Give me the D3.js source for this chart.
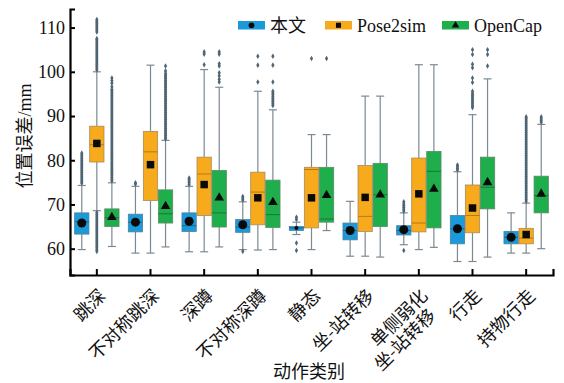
<!DOCTYPE html>
<html>
<head>
<meta charset="utf-8">
<script src="https://cdn.jsdelivr.net/npm/d3@7"></script>
<style>
  html, body { margin: 0; padding: 0; background: #fff; }
  svg { display: block; }
  text { font-family: "Liberation Serif", "Times New Roman", "DejaVu Serif", "Noto Sans CJK SC", serif; fill: #111; }
</style>
</head>
<body>
<svg id="chart" width="564" height="383"></svg>
<script>
// Action categories (a "\n" breaks a label onto two lines)
const categories = ["跳深", "不对称跳深", "深蹲", "不对称深蹲", "静态", "坐-站转移", "单侧弱化\n坐-站转移", "行走", "持物行走"];
const seriesNames = ["本文", "Pose2sim", "OpenCap"];
const yTicks = [60, 70, 80, 90, 100, 110];

// Box statistics per category: [lower whisker, Q1, median, Q3, upper whisker]
const statsBenwen = [
  [59.8, 63.3, 66.1, 68.1, 74.3],
  [59.0, 63.8, 66.0, 67.8, 74.1],
  [59.3, 63.9, 65.2, 68.1, 74.1],
  [59.8, 63.7, 64.9, 66.6, 70.6],
  [63.2, 64.1, 64.7, 65.0, 66.0],
  [58.3, 62.0, 64.1, 65.8, 70.7],
  [60.9, 63.1, 64.1, 65.2, 68.1],
  [57.1, 61.1, 64.5, 67.5, 77.4],
  [59.0, 61.1, 62.6, 63.9, 68.1]
];
const statsPose2sim = [
  [68.6, 79.6, 83.5, 87.7, 100.0],
  [59.0, 70.9, 81.9, 86.5, 101.5],
  [59.3, 67.5, 76.9, 80.7, 100.5],
  [59.7, 65.4, 72.8, 77.3, 95.6],
  [59.8, 64.7, 77.9, 78.4, 85.8],
  [58.3, 63.9, 67.3, 78.8, 94.5],
  [59.8, 63.8, 65.8, 80.5, 101.6],
  [57.1, 63.6, 67.5, 74.4, 90.3],
  [59.0, 61.1, 62.4, 64.6, 70.3]
];
const statsOpenCap = [
  [60.5, 65.0, 67.0, 69.0, 74.9],
  [60.4, 65.8, 67.9, 73.3, 84.5],
  [60.4, 64.9, 68.1, 77.7, 96.5],
  [59.8, 64.8, 67.7, 75.5, 91.4],
  [64.1, 66.0, 66.7, 78.4, 85.8],
  [58.1, 65.0, 72.2, 79.3, 94.5],
  [60.3, 64.7, 77.5, 82.0, 101.6],
  [58.1, 69.0, 73.9, 80.7, 98.4],
  [60.0, 68.1, 72.0, 76.4, 88.1]
];

// Mean errors per category
const meanBenwen   = [65.8, 66.0, 66.2, 65.4, 64.7, 64.1, 64.3, 64.5, 62.6];
const meanPose2sim = [83.8, 79.0, 74.5, 71.5, 71.5, 71.6, 72.4, 69.2, 63.2];
const meanOpenCap  = [67.1, 69.6, 71.5, 70.5, 72.1, 72.2, 73.5, 75.0, 72.4];

// Outlying samples per category
const outliersBenwen = [
  [74.8, 75.2, 75.6, 76.0, 76.4, 76.8, 77.2, 77.6, 78.0, 78.4, 78.8, 79.2, 79.6, 80.0, 80.4, 80.8, 81.2, 81.6],
  [74.6, 74.9],
  [74.5, 74.9, 75.3, 75.7, 76.0],
  [71.0, 71.4, 71.8, 59.4],
  [66.6, 67.1, 61.3, 59.6],
  [],
  [68.5, 68.9, 69.3, 69.7, 70.1, 70.6, 59.6],
  [77.8, 78.2, 78.6, 78.9],
  []
];
const outliersPose2sim = [
  [100.4, 100.8, 101.2, 101.6, 102.0, 102.4, 102.8, 103.2, 103.6, 104.0, 104.4, 104.8, 105.2, 105.6, 106.0, 106.4, 106.8, 107.2, 107.5,
   109.0, 109.4, 109.8, 110.2, 110.6, 111.0, 111.4, 111.8,
   68.2, 67.8, 67.4, 67.0, 66.6, 66.2, 65.8, 65.4, 65.0, 64.6, 64.2, 63.8, 63.4, 63.0, 62.6, 62.2, 61.8, 61.4, 61.0, 60.6, 60.2, 59.8, 59.4],
  [],
  [101.6, 104.0, 104.5],
  [97.7, 101.5, 103.5],
  [103.0],
  [],
  [],
  [91.9, 92.3, 92.7, 93.1, 93.5, 93.9, 94.3, 94.7, 95.1, 95.6, 97.6, 98.6, 100.9, 101.7, 103.9, 105.0],
  [70.7, 71.1, 71.5, 71.9, 72.3, 72.7, 73.1, 73.5, 73.9, 74.3, 74.7, 75.1, 75.5, 75.9, 76.3, 76.7, 77.1, 77.5, 77.9, 78.3,
   78.7, 79.1, 79.5, 79.9, 80.3, 80.7, 81.1, 81.5, 81.9, 82.3, 82.7, 83.1, 83.5, 83.9, 84.3, 84.7, 85.1, 85.5, 85.9, 86.3,
   86.7, 87.1, 87.5, 87.9, 88.3, 88.7, 89.1, 89.5, 89.8]
];
const outliersOpenCap = [
  [75.3, 75.7, 76.1, 76.5, 76.9, 77.3, 77.7, 78.1, 78.5, 78.9, 79.3, 79.7, 80.1, 80.5, 80.9, 81.3, 81.7, 82.1, 82.5, 82.9,
   83.3, 83.7, 84.1, 84.5, 84.9, 85.3, 85.7, 86.1, 86.5, 86.9, 87.3, 87.7, 88.1, 88.5, 88.9, 89.3, 89.7, 90.1, 90.5, 90.9,
   91.3, 91.7, 92.1, 92.5, 92.9, 93.3, 93.7, 94.1, 94.5, 94.9, 95.3, 95.7, 96.0, 96.6, 97.4, 98.0, 98.6],
  [84.8, 85.2, 85.6, 86.0, 86.4, 86.8, 87.2, 87.6, 88.0, 88.4, 88.8, 89.2, 89.6, 90.0, 90.4, 90.8, 91.2, 91.6, 92.0, 92.4,
   92.8, 93.2, 93.6, 94.0, 94.4, 94.8, 95.2, 95.6, 96.0, 96.4, 96.8, 97.2, 97.6, 98.0, 98.4, 98.8, 99.2, 99.6, 100.2, 101.3],
  [97.7, 98.3, 99.1, 99.8, 101.3, 101.8, 104.0, 104.5],
  [92.4, 92.8, 93.2, 93.6, 94.0, 94.4, 94.8, 95.2, 95.6, 97.7, 101.5, 103.5],
  [103.0],
  [],
  [],
  [101.3, 103.9, 105.0],
  [88.6, 89.0, 89.4, 89.8]
];

const series = [
  { name: seriesNames[0], stats: statsBenwen,   means: meanBenwen,   outliers: outliersBenwen,   fill: "#1b9ad9", edge: "#4d7f9e", mid: "#1a6591", symbol: d3.symbolCircle },
  { name: seriesNames[1], stats: statsPose2sim, means: meanPose2sim, outliers: outliersPose2sim, fill: "#f7aa1c", edge: "#a88a5a", mid: "#b57b14", symbol: d3.symbolSquare },
  { name: seriesNames[2], stats: statsOpenCap,  means: meanOpenCap,  outliers: outliersOpenCap,  fill: "#1fae4c", edge: "#5c8a68", mid: "#157a35", symbol: d3.symbolTriangle }
];

const serifFont = "'Liberation Serif', 'Times New Roman', 'DejaVu Serif', 'Noto Sans CJK SC', serif";

const svg = d3.select("#chart");
const plotLeft = 70, plotRight = 553, plotTop = 9, plotBottom = 275;

const x = d3.scaleBand().domain(categories).range([plotLeft, plotRight]).padding(0);
const xs = d3.scaleBand().domain(seriesNames).range([-22.2, 22.2]).paddingInner(0.05);
const y = d3.scaleLinear().domain([54.05, 114.2]).range([plotBottom, plotTop]);

const whiskerColor = "#7d8992";
const outlierColor = "#4e6574";
const boxW = xs.bandwidth();
const capW = 8;

// Boxes, whiskers, outliers and means
series.forEach(s => {
  const g = svg.append("g");
  categories.forEach((c, i) => {
    const [lo, q1, med, q3, hi] = s.stats[i];
    const cx = x(c) + x.bandwidth() / 2 + xs(s.name) + boxW / 2;

    // whiskers
    g.append("line").attr("x1", cx).attr("x2", cx).attr("y1", y(hi)).attr("y2", y(q3))
      .attr("stroke", whiskerColor).attr("stroke-width", 1.2);
    g.append("line").attr("x1", cx).attr("x2", cx).attr("y1", y(q1)).attr("y2", y(lo))
      .attr("stroke", whiskerColor).attr("stroke-width", 1.2);
    [hi, lo].forEach(v => g.append("line")
      .attr("x1", cx - capW / 2).attr("x2", cx + capW / 2).attr("y1", y(v)).attr("y2", y(v))
      .attr("stroke", whiskerColor).attr("stroke-width", 1.2));

    // outliers
    s.outliers[i].forEach(v => g.append("path")
      .attr("d", d3.symbol(d3.symbolDiamond, 9)())
      .attr("transform", `translate(${cx},${y(v)})`)
      .attr("fill", outlierColor));

    // box
    g.append("rect").attr("x", cx - boxW / 2).attr("y", y(q3))
      .attr("width", boxW).attr("height", y(q1) - y(q3))
      .attr("fill", s.fill).attr("stroke", s.edge).attr("stroke-width", 0.8);
    g.append("line").attr("x1", cx - boxW / 2).attr("x2", cx + boxW / 2)
      .attr("y1", y(med)).attr("y2", y(med))
      .attr("stroke", s.mid).attr("stroke-width", 1);

    // mean marker, reduced inside very thin boxes
    const boxH = y(q1) - y(q3);
    const k = Math.min(1, boxH / 9);
    const baseSize = s.symbol === d3.symbolSquare ? 56 : (s.symbol === d3.symbolTriangle ? 40 : 64);
    g.append("path")
      .attr("d", d3.symbol(s.symbol, baseSize * k * k)())
      .attr("transform", `translate(${cx},${y(s.means[i])})`)
      .attr("fill", "#0a0a0a");
  });
});

// Y axis
const yAxis = svg.append("g").attr("transform", `translate(${plotLeft},0)`)
  .call(d3.axisLeft(y).tickValues(yTicks).tickSizeInner(-5).tickSizeOuter(-5).tickPadding(5));
yAxis.attr("font-family", null);
yAxis.select(".domain").attr("stroke", "#000").attr("stroke-width", 2.2);
yAxis.selectAll(".tick line").attr("stroke", "#000").attr("stroke-width", 2);
yAxis.selectAll(".tick text").attr("font-size", 18).attr("fill", "#222")
  .style("font-family", serifFont);

// X axis
const xAxis = svg.append("g").attr("transform", `translate(0,${plotBottom})`)
  .call(d3.axisBottom(x).tickSizeInner(-6).tickSizeOuter(-6).tickFormat(""));
xAxis.select(".domain").attr("stroke", "#000").attr("stroke-width", 2.2);
xAxis.selectAll(".tick line").attr("stroke", "#000").attr("stroke-width", 2);

// Rotated category labels
categories.forEach(c => {
  const lines = c.split("\n");
  const t = svg.append("text")
    .attr("transform", `translate(${x(c) + x.bandwidth() / 2 + 10},${plotBottom + 22}) rotate(-45)`)
    .attr("text-anchor", "end")
    .attr("font-size", 18)
    .style("font-family", "'Noto Sans CJK SC', sans-serif");
  lines.forEach((ln, j) => t.append("tspan").attr("x", j === 0 ? 0 : -8).attr("dy", j === 0 ? 0 : 19.5).text(ln));
});

// Axis titles
svg.append("text").attr("x", 309).attr("y", 378).attr("text-anchor", "middle")
  .attr("font-size", 18).style("font-family", serifFont).text("动作类别");
svg.append("text").attr("transform", "translate(31,136) rotate(-90)").attr("text-anchor", "middle")
  .attr("font-size", 18).style("font-family", serifFont).text("位置误差/mm");

// Legend
const legendX = [238, 325, 442];
series.forEach((s, i) => {
  const g = svg.append("g").attr("transform", `translate(${legendX[i]},21)`);
  g.append("rect").attr("width", 27).attr("height", 8.5).attr("fill", s.fill);
  const legendSize = s.symbol === d3.symbolCircle ? 26 : (s.symbol === d3.symbolSquare ? 26 : 24);
  g.append("path").attr("d", d3.symbol(s.symbol, legendSize)())
    .attr("transform", "translate(13.5,4.3)").attr("fill", "#0a0a0a");
  g.append("text").attr("x", 32).attr("y", 10.5).attr("font-size", 18)
    .style("font-family", serifFont).text(s.name);
});
</script>
</body>
</html>
